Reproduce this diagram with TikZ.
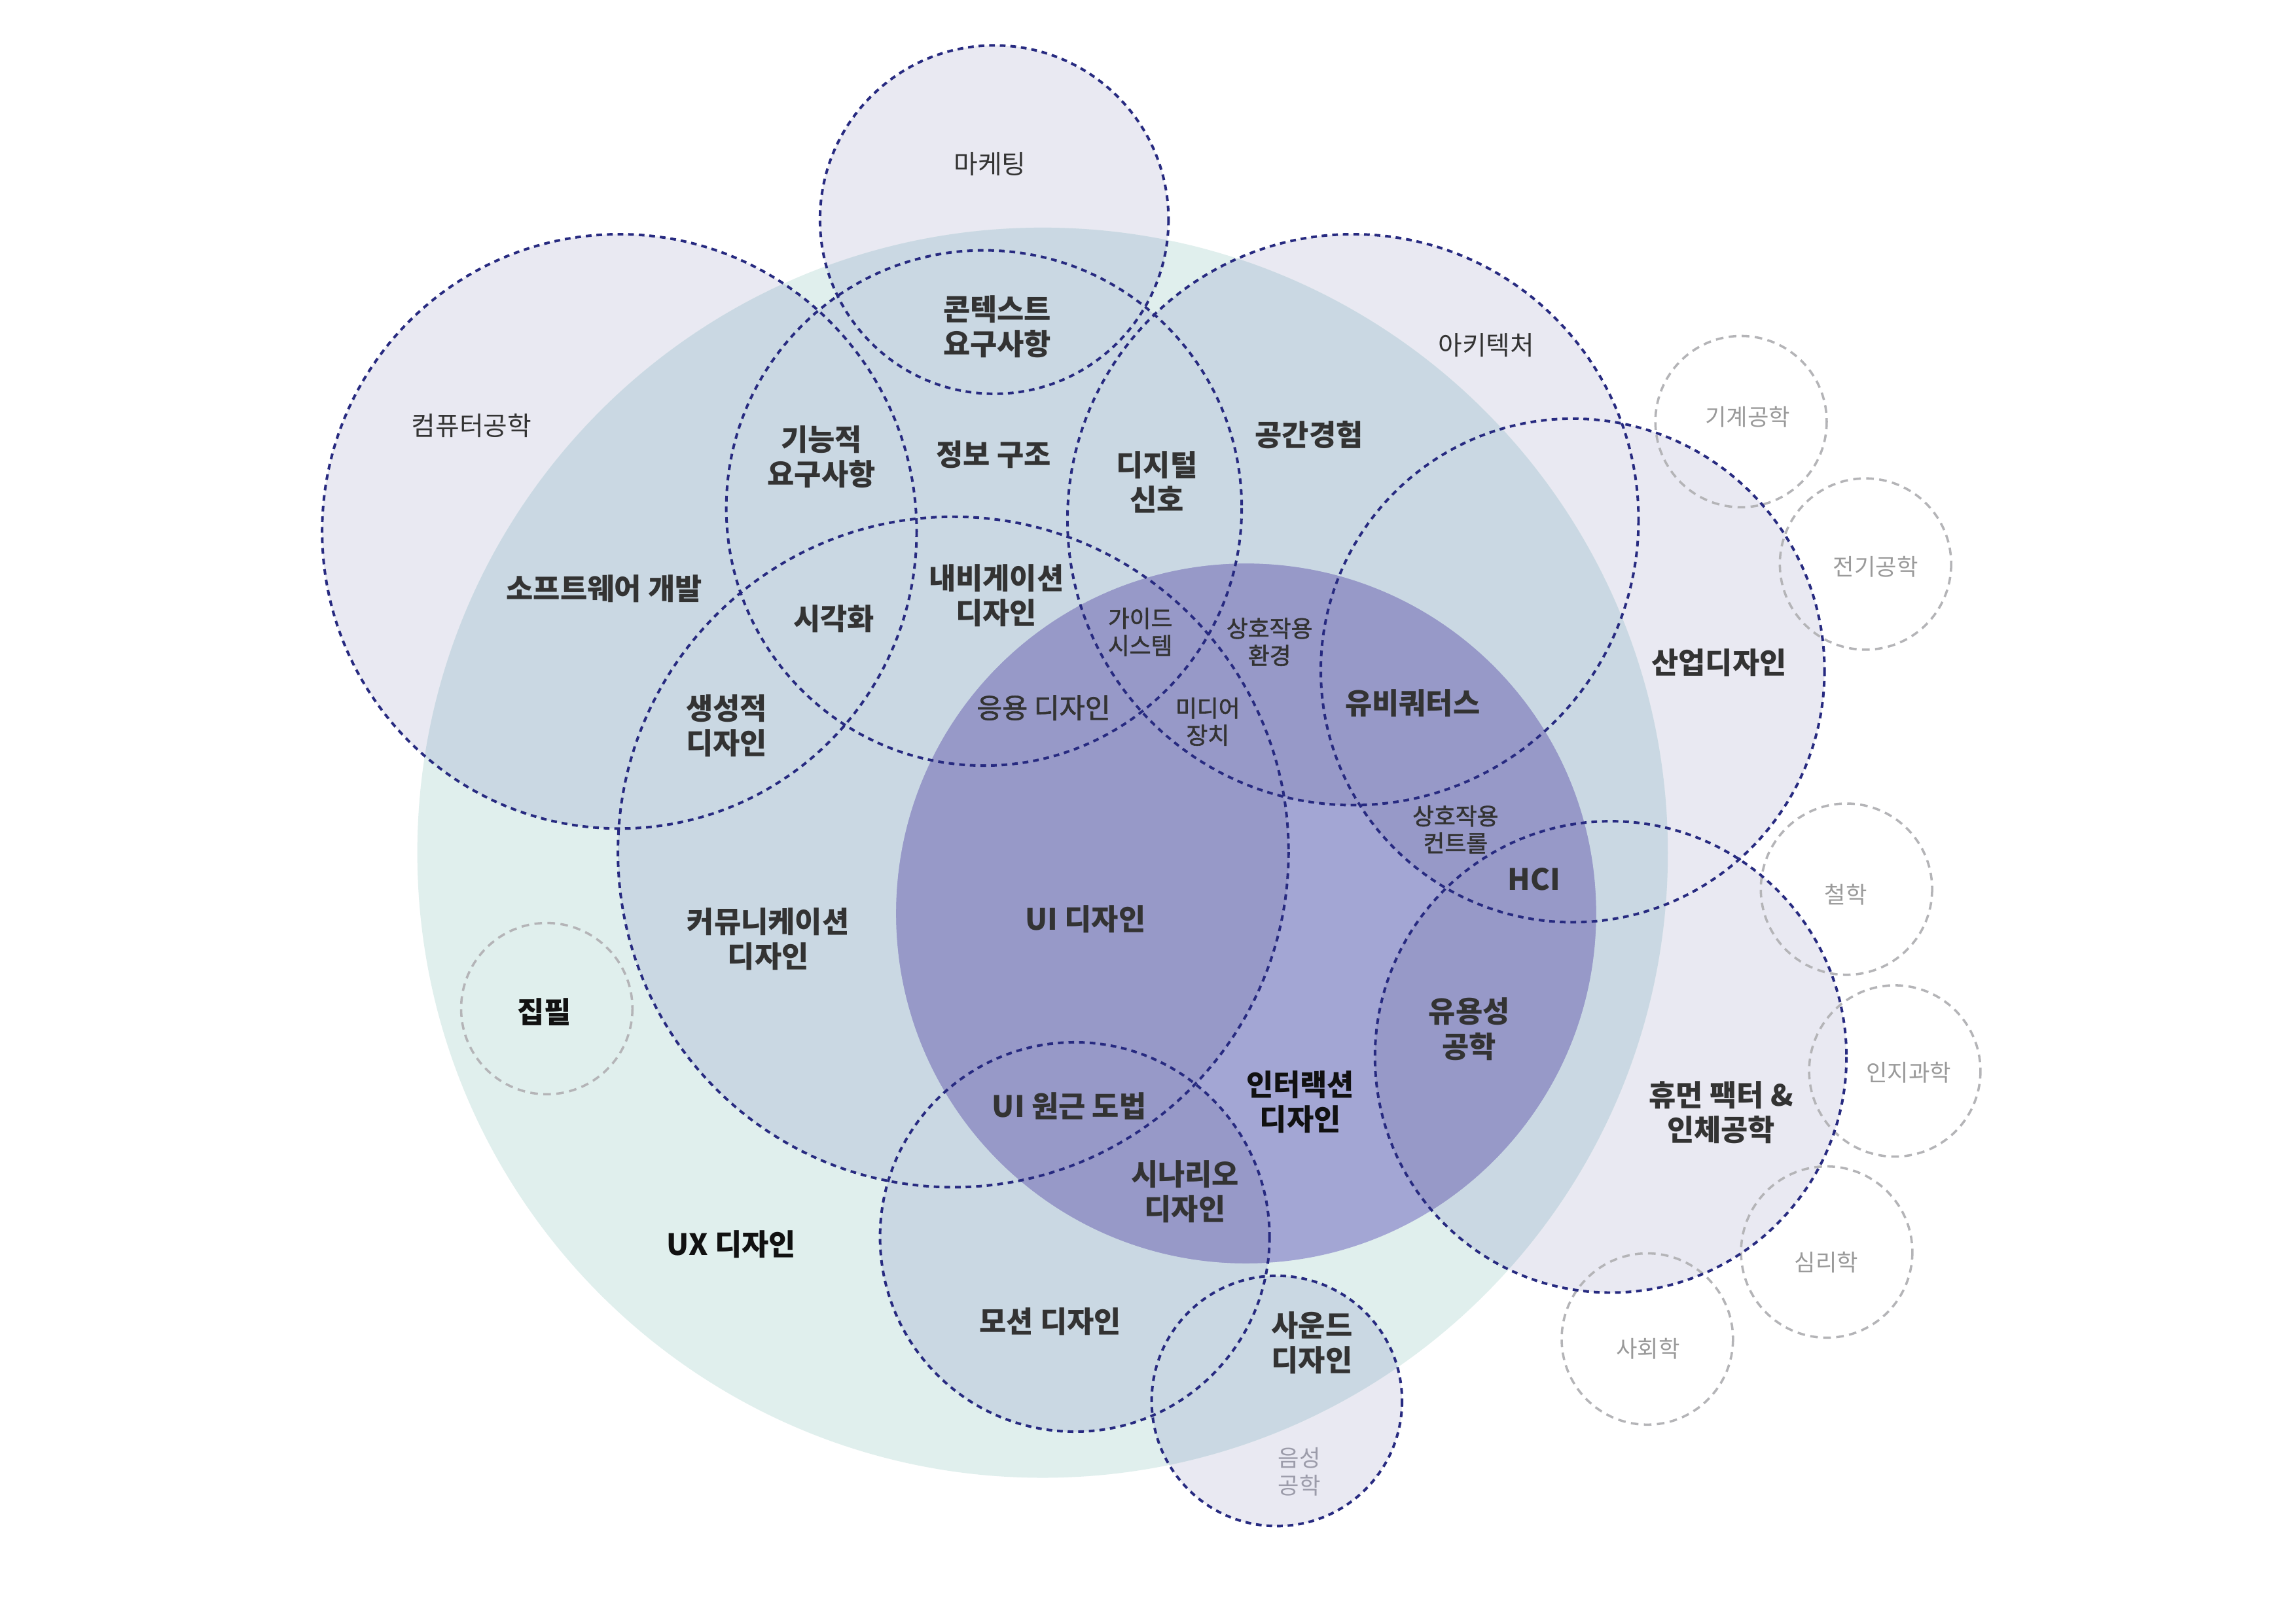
\documentclass[tikz,border=0pt]{standalone}
\usepackage{fontspec}
\setmainfont{Noto Sans CJK KR}
\newfontfamily\medfont{Noto Sans CJK KR}[FakeBold=1.6]
\definecolor{uxteal}{HTML}{E0EFED}
\definecolor{lavc}{HTML}{E9E9F2}
\definecolor{ovlc}{HTML}{CAD8E3}
\definecolor{uilight}{HTML}{A3A6D4}
\definecolor{uidark}{HTML}{9799C8}
\definecolor{navyc}{HTML}{272A80}
\definecolor{grayline}{HTML}{B4B4B7}
\definecolor{txtc}{HTML}{333333}
\definecolor{blkc}{HTML}{111111}
\definecolor{grytxt}{HTML}{9A9A9A}
\definecolor{voicetxt}{HTML}{9C9CAA}
\tikzset{
  mainlbl/.style={align=center, inner sep=0pt, text=txtc, font=\bfseries\fontsize{10.8}{12.8}\selectfont},
  blklbl/.style={mainlbl, text=blkc},
  lavlbl/.style={align=center, inner sep=0pt, text=txtc, font=\fontsize{9.6}{11.5}\selectfont},
  grylbl/.style={align=center, inner sep=0pt, text=grytxt, font=\fontsize{8.5}{10}\selectfont},
  smllbl/.style={align=center, inner sep=0pt, text=txtc, font={\medfont\fontsize{8.6}{10}\selectfont}},
  midlbl/.style={align=center, inner sep=0pt, text=txtc, font={\medfont\fontsize{10.2}{12.8}\selectfont}},
  navyring/.style={draw=navyc, line width=0.95pt, dash pattern=on 2.1pt off 1.8pt},
  grayring/.style={draw=grayline, line width=0.85pt, dash pattern=on 2.8pt off 2pt},
}
\begin{document}
\begin{tikzpicture}[x=0.018941cm, y=-0.018941cm]
\useasboundingbox (0,0) rectangle (1568,1109);
\fill[white] (0,0) rectangle (1568,1109);
% centres
\coordinate (ux)   at (712,582.5);
\coordinate (mkt)  at (679,150);
\coordinate (ce)   at (423,363);
\coordinate (arch) at (924,355);
\coordinate (ia)   at (672,347);
\coordinate (cd)   at (651,582);
\coordinate (ui)   at (851,624);
\coordinate (ind)  at (1074,458);
\coordinate (hci)  at (1100,722);
\coordinate (mot)  at (734,845);
\coordinate (snd)  at (872,957);
\coordinate (wr)   at (373.4,689);
\coordinate (me)   at (1189,288);
\coordinate (ee)   at (1274,385.3);
\coordinate (ph)   at (1261,607.4);
\coordinate (cs)   at (1294,731.6);
\coordinate (psy)  at (1247.5,855.3);
\coordinate (soc)  at (1125,914.7);
\def\dlist{mkt/119,ce/203,arch/195,ia/176,cd/229,ind/172,hci/161,mot/133,snd/85.5}
% fills
\fill[lavc] \foreach \c/\r in \dlist {(\c) circle[radius=\r]};
\fill[uxteal] (ux) circle[radius=427];
\begin{scope}
  \clip (ux) circle[radius=427];
  \fill[ovlc] \foreach \c/\r in \dlist {(\c) circle[radius=\r]};
\end{scope}
\fill[uilight] (ui) circle[radius=239];
\begin{scope}
  \clip (ui) circle[radius=239];
  \fill[uidark] \foreach \c/\r in \dlist {(\c) circle[radius=\r]};
\end{scope}
% gray rings
\foreach \c in {wr,me,ee,ph,cs,psy,soc} {\draw[grayring] (\c) circle[radius=58.5];}
% navy rings
\foreach \c/\r in \dlist {\draw[navyring] (\c) circle[radius=\r];}
% labels
\node[lavlbl] (tmkt) at (676,112) {마케팅};
\node[mainlbl] (tctx) at (681,223) {콘텍스트\\요구사항};
\node[lavlbl] (tce) at (322,290.6) {컴퓨터공학};
\node[lavlbl] (tarch) at (1015,236) {아키텍처};
\node[mainlbl] (tfunc) at (561,312) {기능적\\요구사항};
\node[mainlbl] (tia) at (678.6,310.4) {정보 구조};
\node[mainlbl] (tdig) at (790,329.5) {디지털\\신호};
\node[mainlbl] (tspace) at (894,297) {공간경험};
\node[grylbl] (tme) at (1193.6,284.8) {기계공학};
\node[grylbl] (tee) at (1281,387) {전기공학};
\node[mainlbl] (tsw) at (412.6,402.3) {소프트웨어 개발};
\node[mainlbl] (tvis) at (569.6,422.7) {시각화};
\node[mainlbl] (tnav) at (680.4,407) {내비게이션\\디자인};
\node[smllbl] (tguide) at (778.7,431.7) {가이드\\시스템};
\node[smllbl] (tienv) at (867,438.5) {상호작용\\환경};
\node[mainlbl] (tubi) at (964.7,480.5) {유비쿼터스};
\node[mainlbl] (tind) at (1174,452.5) {산업디자인};
\node[mainlbl] (tgen) at (496.2,496) {생성적\\디자인};
\node[midlbl] (tapp) at (712.7,483.5) {응용 디자인};
\node[smllbl] (tmed) at (824.8,493) {미디어\\장치};
\node[smllbl] (tictl) at (994,566.6) {상호작용\\컨트롤};
\node[mainlbl] (thci) at (1047.6,600.5) {HCI};
\node[grylbl] (tph) at (1260.5,610.9) {철학};
\node[mainlbl] (tcom) at (524.6,641.5) {커뮤니케이션\\디자인};
\node[mainlbl] (tui) at (741.3,627.9) {UI 디자인};
\node[blklbl] (twr) at (371.8,691.5) {집필};
\node[mainlbl] (tusa) at (1003.4,703) {유용성\\공학};
\node[grylbl] (tcs) at (1303.5,732.7) {인지과학};
\node[blklbl] (tixd) at (888,752.7) {인터랙션\\디자인};
\node[mainlbl] (tpers) at (730.2,755.6) {UI 원근 도법};
\node[mainlbl] (thf) at (1175.4,760) {휴먼 팩터 \&\\인체공학};
\node[mainlbl] (tscn) at (809.3,814) {시나리오\\디자인};
\node[grylbl] (tpsy) at (1247.3,862.4) {심리학};
\node[blklbl] (tux) at (499.4,850) {UX 디자인};
\node[mainlbl] (tmot) at (717.3,902.8) {모션 디자인};
\node[mainlbl] (tsnd) at (895.9,917.5) {사운드\\디자인};
\node[grylbl] (tsoc) at (1125.4,921.4) {사회학};
\node[grylbl, text=voicetxt] (tvoice) at (887.3,1005.4) {음성\\공학};
\end{tikzpicture}
\end{document}
